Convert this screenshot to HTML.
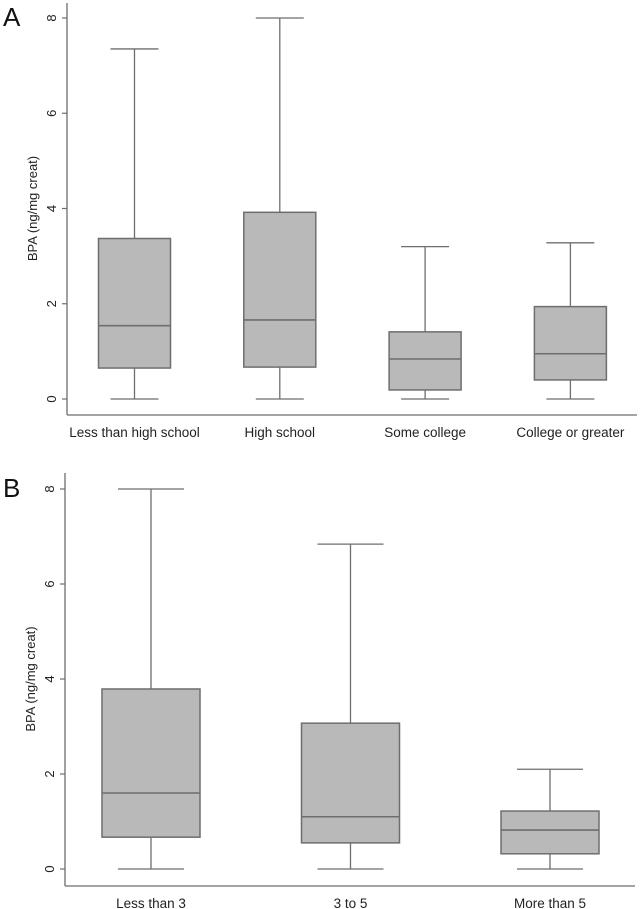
<!DOCTYPE html>
<html><head><meta charset="utf-8"><style>
body{margin:0;background:#fff;}
svg{display:block;font-family:"Liberation Sans",Arial,sans-serif;}
</style></head><body>
<svg id="fig" width="644" height="909" viewBox="0 0 644 909">
<text x="3" y="26" font-size="26" fill="#111">A</text>
<text x="3" y="497" font-size="26" fill="#111">B</text>
</svg>
<script>
const catsA = ["Less than high school","High school","Some college","College or greater"];
const minA = [0,0,0,0];
const q1A = [0.65,0.67,0.19,0.40];
const medA = [1.54,1.66,0.84,0.95];
const q3A = [3.37,3.92,1.41,1.94];
const maxA = [7.35,8.0,3.2,3.28];

const catsB = ["Less than 3","3 to 5","More than 5"];
const minB = [0,0,0];
const q1B = [0.67,0.55,0.32];
const medB = [1.6,1.1,0.82];
const q3B = [3.79,3.07,1.22];
const maxB = [8.0,6.84,2.1];

const yTicks = [0,2,4,6,8];

const svg = document.getElementById('fig');
const NS = 'http://www.w3.org/2000/svg';
function mk(tag, at){const e=document.createElementNS(NS,tag);for(const k in at)e.setAttribute(k,at[k]);svg.appendChild(e);return e;}
const STROKE='#6e6e6e';

function panel(p, cats, mins, q1s, meds, q3s, maxs){
  const y = v => p.y0 - (p.y0 - p.y8) * v / 8;
  const x = i => p.c0 + i * p.step;
  let e = mk('line',{x1:p.ax,y1:p.top,x2:p.ax,y2:p.xb,stroke:STROKE,'stroke-width':1.3});
   
  e = mk('line',{x1:p.ax,y1:p.xb,x2:p.xend,y2:p.xb,stroke:STROKE,'stroke-width':1.3});
   
  yTicks.forEach(t=>{
    const l = mk('line',{x1:p.ax-5,y1:y(t),x2:p.ax,y2:y(t),stroke:STROKE,'stroke-width':1.2});
     
    const tx = mk('text',{x:0,y:0,'font-size':13,fill:'#222','text-anchor':'middle',transform:`translate(${p.ax-11},${y(t)}) rotate(-90)`});
    tx.textContent = t;
     
  });
  const tt = mk('text',{x:0,y:0,'font-size':13,fill:'#222','text-anchor':'middle',transform:`translate(${p.ax-30},${(p.y0+p.y8)/2}) rotate(-90)`});
  tt.textContent = 'BPA (ng/mg creat)';
   
  cats.forEach((c,i)=>{
    const cx = x(i), hw = p.bw/2, cw = p.cw;
    let l = mk('line',{x1:cx,y1:y(maxs[i]),x2:cx,y2:y(q3s[i]),stroke:STROKE,'stroke-width':1.3});
     
    l = mk('line',{x1:cx,y1:y(q1s[i]),x2:cx,y2:y(mins[i]),stroke:STROKE,'stroke-width':1.3});
     
    l = mk('line',{x1:cx-cw,y1:y(maxs[i]),x2:cx+cw,y2:y(maxs[i]),stroke:STROKE,'stroke-width':1.3});
     
    l = mk('line',{x1:cx-cw,y1:y(mins[i]),x2:cx+cw,y2:y(mins[i]),stroke:STROKE,'stroke-width':1.3});
     
    const r = mk('rect',{x:cx-hw,y:y(q3s[i]),width:p.bw,height:y(q1s[i])-y(q3s[i]),fill:'#b9b9b9',stroke:STROKE,'stroke-width':1.5});
     
    l = mk('line',{x1:cx-hw,y1:y(meds[i]),x2:cx+hw,y2:y(meds[i]),stroke:STROKE,'stroke-width':1.6});
     
    const t = mk('text',{x:cx,y:p.xb+22,'font-size':13.5,fill:'#222','text-anchor':'middle'});
    t.textContent = c;
     
  });
}
panel({id:'panel-a',ax:67,top:3,xb:415,xend:637,y0:399,y8:18,c0:134.5,step:145.3,bw:72,cw:24},catsA,minA,q1A,medA,q3A,maxA);
panel({id:'panel-b',ax:65,top:473,xb:886,xend:635,y0:869,y8:489,c0:151,step:199.5,bw:98,cw:33},catsB,minB,q1B,medB,q3B,maxB);
</script>
</body></html>
